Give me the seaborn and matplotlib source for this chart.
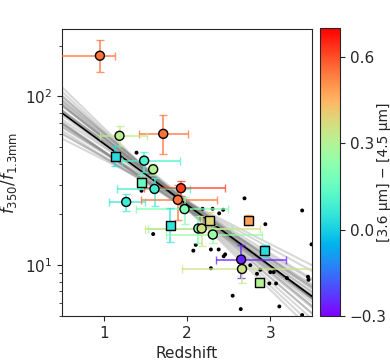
import numpy as np
import matplotlib
matplotlib.use("Agg")
from matplotlib import pyplot as plt
import seaborn as sns
import pandas as pd

# Puntos con color IRAC
z = [0.955, 1.715, 1.19, 1.136, 1.486, 1.594, 1.45, 1.61, 1.27, 1.928, 1.89, 1.97, 1.80,
     2.136, 2.176, 2.27, 2.31, 2.735, 2.65, 2.66, 2.935, 2.87]
ratio = [174, 60, 58.4, 44.2, 41.6, 37, 31.1, 28.3, 23.7, 28.6, 24.4, 21.5, 17.3,
         16.5, 16.5, 18.3, 15.2, 18.5, 10.8, 9.5, 12.2, 7.9]
z_lo = [0.5, 0.295, 0.24, 0, 0.27, 0, 0, 0.45, 0.21, 0.45, 0.44, 0.58, 0,
        0.6, 0.68, 0, 0.56, 0, 0.30, 0.72, 0, 0]
z_hi = [0.175, 0.295, 0.33, 0, 0.43, 0, 0, 0.43, 0.23, 0.53, 0.47, 0.52, 0,
        0.4, 0.70, 0, 0.59, 0, 0.54, 0.95, 0, 0]
r_lo = [34, 14.5, 7.4, 5.4, 5.8, 3, 3, 6, 2.7, 3, 5.8, 4, 3.5,
        3, 3.5, 2.5, 1.6, 1.3, 2.4, 1.7, 1, 0.5]
r_hi = [42, 18, 8.4, 6.5, 5.4, 3, 3, 4.6, 2.7, 3, 5.6, 4, 4.6,
        3, 3, 2.5, 2, 1.3, 2.4, 1.7, 1, 0.5]
color = [0.55, 0.55, 0.32, 0.03, 0.1, 0.3, 0.15, 0.08, 0.07, 0.62, 0.55, 0.2, 0.05,
         0.2, 0.36, 0.38, 0.25, 0.48, -0.25, 0.35, 0.03, 0.3]
marker = ['o', 'o', 'o', 's', 'o', 'o', 's', 'o', 'o', 'o', 'o', 'o', 's',
          'o', 'o', 's', 'o', 's', 'o', 'o', 's', 's']

# Puntos sin color (negros)
z_bk = [1.394, 1.454, 1.594, 2.105, 2.076, 2.690, 3.382, 2.187, 2.307, 2.386, 2.434, 2.940,
        2.287, 2.380, 2.440, 2.458, 2.287, 2.759, 2.840, 2.880, 3.0, 3.040, 3.199, 3.452,
        3.458, 2.988, 3.069, 2.548, 2.645, 3.108, 3.382, 3.494]
r_bk = [46.4, 27.6, 15.3, 13.2, 12.2, 24.9, 21.1, 21.6, 21.6, 20.3, 21.3, 17.5,
        12.4, 12.4, 11.3, 11.6, 9.6, 10.0, 8.9, 9.4, 9.1, 9.1, 8.4, 8.55,
        8.2, 7.8, 7.8, 6.6, 5.5, 5.7, 5.07, 13.3]

# Ajuste: log10(ratio) = a + b*(z - 2.3)
a_fit = 1.25
b_fit = -0.362
a_samp = [1.25, 1.27, 1.23, 1.26, 1.24, 1.22, 1.28, 1.26, 1.21, 1.25, 1.23, 1.27, 1.29, 1.20, 1.24,
          1.26, 1.25, 1.22, 1.28, 1.23, 1.26, 1.24, 1.25, 1.30, 1.19, 1.27, 1.23, 1.24, 1.26, 1.25]
b_samp = [-0.36, -0.33, -0.40, -0.38, -0.31, -0.42, -0.35, -0.29, -0.44, -0.37, -0.34, -0.39, -0.27, -0.46, -0.36,
          -0.32, -0.41, -0.35, -0.30, -0.43, -0.38, -0.33, -0.37, -0.25, -0.48, -0.36, -0.34, -0.40, -0.31, -0.39]

sns.set_style("ticks")
plt.rcParams['font.family'] = ['DejaVu Sans']

fig = plt.figure(figsize=(3.9, 3.6), dpi=100)
ax = fig.add_axes([0.159, 0.122, 0.641, 0.797])
cax = fig.add_axes([0.821, 0.122, 0.051, 0.800])

cmap = plt.get_cmap('rainbow')
norm = matplotlib.colors.Normalize(vmin=-0.3, vmax=0.7)

zz = np.linspace(0.5, 3.5, 50)
for a, b in zip(a_samp, b_samp):
    ax.plot(zz, 10 ** (a + b * (zz - 2.3)), color='gray', alpha=0.3, lw=1.5, zorder=1)
ax.plot(zz, 10 ** (a_fit + b_fit * (zz - 2.3)), color='black', lw=1.2, zorder=2)

sns.scatterplot(x=z_bk, y=r_bk, color='black', s=8, edgecolor='none', ax=ax, zorder=3)

df = pd.DataFrame({'z': z, 'r': ratio, 'c': color, 'm': marker})
for i in range(len(z)):
    ax.errorbar(z[i], ratio[i], xerr=[[z_lo[i]], [z_hi[i]]], yerr=[[r_lo[i]], [r_hi[i]]],
                fmt='none', ecolor=cmap(norm(color[i])), alpha=0.75, capsize=3, lw=1.3, zorder=4)
for m in ['o', 's']:
    sub = df[df['m'] == m]
    sns.scatterplot(data=sub, x='z', y='r', hue='c', palette='rainbow', hue_norm=(-0.3, 0.7),
                    marker=m, s=42, edgecolor='black', linewidth=1, legend=False, ax=ax, zorder=5)

ax.set_yscale('log')
ax.set_xlim(0.5, 3.5)
ax.set_ylim(5, 250)
ax.set_xticks([1, 2, 3])
ax.tick_params(labelsize=11)
ax.set_xlabel('Redshift', fontsize=11)
ax.set_ylabel(r'$f_{350}/f_{1.3\mathrm{mm}}$', fontsize=12)

sm = matplotlib.cm.ScalarMappable(cmap=cmap, norm=norm)
cb = fig.colorbar(sm, cax=cax, ticks=[-0.3, 0.0, 0.3, 0.6])
cb.ax.set_yticklabels(['\u22120.3', '0.0', '0.3', '0.6'])
cb.ax.tick_params(labelsize=11)
cb.set_label('[3.6 \u03bcm] \u2212 [4.5 \u03bcm]', fontsize=10)
cb.ax.yaxis.set_label_coords(2.85, 0.5)
cb.outline.set_linewidth(0.8)

fig.savefig('out.png', dpi=100)
